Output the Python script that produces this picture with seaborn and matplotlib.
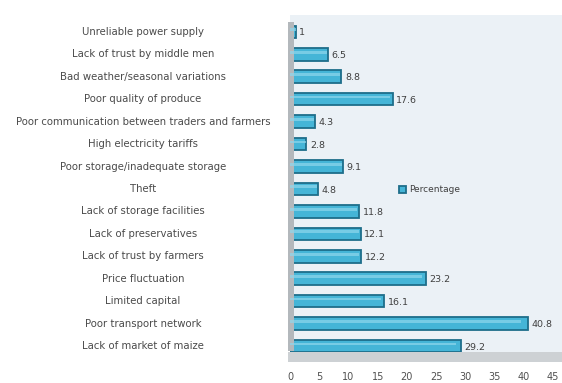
import matplotlib
matplotlib.use("Agg")
import matplotlib.pyplot as plt
import matplotlib.patches as mpatches
import matplotlib.transforms as mtransforms
import seaborn as sns
import pandas as pd

categories = [
    "Unreliable power supply",
    "Lack of trust by middle men",
    "Bad weather/seasonal variations",
    "Poor quality of produce",
    "Poor communication between traders and farmers",
    "High electricity tariffs",
    "Poor storage/inadequate storage",
    "Theft",
    "Lack of storage facilities",
    "Lack of preservatives",
    "Lack of trust by farmers",
    "Price fluctuation",
    "Limited capital",
    "Poor transport network",
    "Lack of market of maize",
]
percentages = [1, 6.5, 8.8, 17.6, 4.3, 2.8, 9.1, 4.8, 11.8, 12.1, 12.2, 23.2, 16.1, 40.8, 29.2]
x_ticks = [0, 5, 10, 15, 20, 25, 30, 35, 40, 45]

df = pd.DataFrame({"Problem": categories, "Percentage": percentages})

sns.set_theme(style="white")
plt.rcParams["font.family"] = ["DejaVu Sans"]

W, H = 562, 383
fig = plt.figure(figsize=(W / 100, H / 100), dpi=100)
fig.patch.set_facecolor("white")

x0, x45, x1 = 290, 553, 562
y_top, y_bot = 15, 358
ax = fig.add_axes([x0 / W, (H - y_bot) / H, (x1 - x0) / W, (y_bot - y_top) / H])
ax.set_facecolor("#ebf1f6")

bar_color = "#45b5d7"
edge_color = "#1e6e8a"
sns.barplot(data=df, x="Percentage", y="Problem", orient="h", ax=ax,
            color=bar_color, edgecolor=edge_color, linewidth=1.3,
            width=0.56, saturation=1, label="Percentage")

# lighter highlight stripe along each bar
for p in list(ax.patches):
    hl = mpatches.Rectangle((p.get_x(), p.get_y() + p.get_height() * 0.22),
                            p.get_width() * 0.97, p.get_height() * 0.22,
                            facecolor="#8fd6ec", edgecolor="none", alpha=0.7, zorder=3)
    ax.add_patch(hl)

ax.set_xlim(0, 45 * (x1 - x0) / (x45 - x0))
ax.set_ylim(len(categories) - 0.47, -0.75)
ax.set_xticks(x_ticks)
ax.set_xticklabels([str(t) for t in x_ticks], fontsize=7, color="#505050")
ax.tick_params(axis="x", length=0, pad=10)
ax.set_yticks([])
ax.set_xlabel("")
ax.set_ylabel("")
for s in ax.spines.values():
    s.set_visible(False)

# category names, centred in the left margin
trans = mtransforms.blended_transform_factory(fig.transFigure, ax.transData)
for i, name in enumerate(categories):
    ax.text(143 / W, i, name, transform=trans, ha="center", va="center",
            fontsize=7.3, color="#4a4a4a", clip_on=False)

# value labels at the end of each bar
for i, v in enumerate(percentages):
    ax.text(v + 0.6, i + 0.05, f"{v:g}", ha="left", va="center",
            fontsize=6.8, color="#404040", zorder=5)

# left wall and floor of the 3-D panel
ax.add_patch(mpatches.Rectangle((-0.006, 0.02), 0.022, 0.96, transform=ax.transAxes,
                                facecolor="#b3b8bc", edgecolor="none", clip_on=False, zorder=1))
ax.add_patch(mpatches.Rectangle((-0.006, -0.012), 1.01, 0.03, transform=ax.transAxes,
                                facecolor="#cdd1d4", edgecolor="none", clip_on=False, zorder=1))

leg = ax.legend(loc="center left", bbox_to_anchor=(0.37, 0.49), frameon=False,
                fontsize=6.5, handlelength=0.8, handleheight=0.8, handletextpad=0.3)
for t in leg.get_texts():
    t.set_color("#404040")

fig.savefig("out.png", dpi=100, facecolor="white")
